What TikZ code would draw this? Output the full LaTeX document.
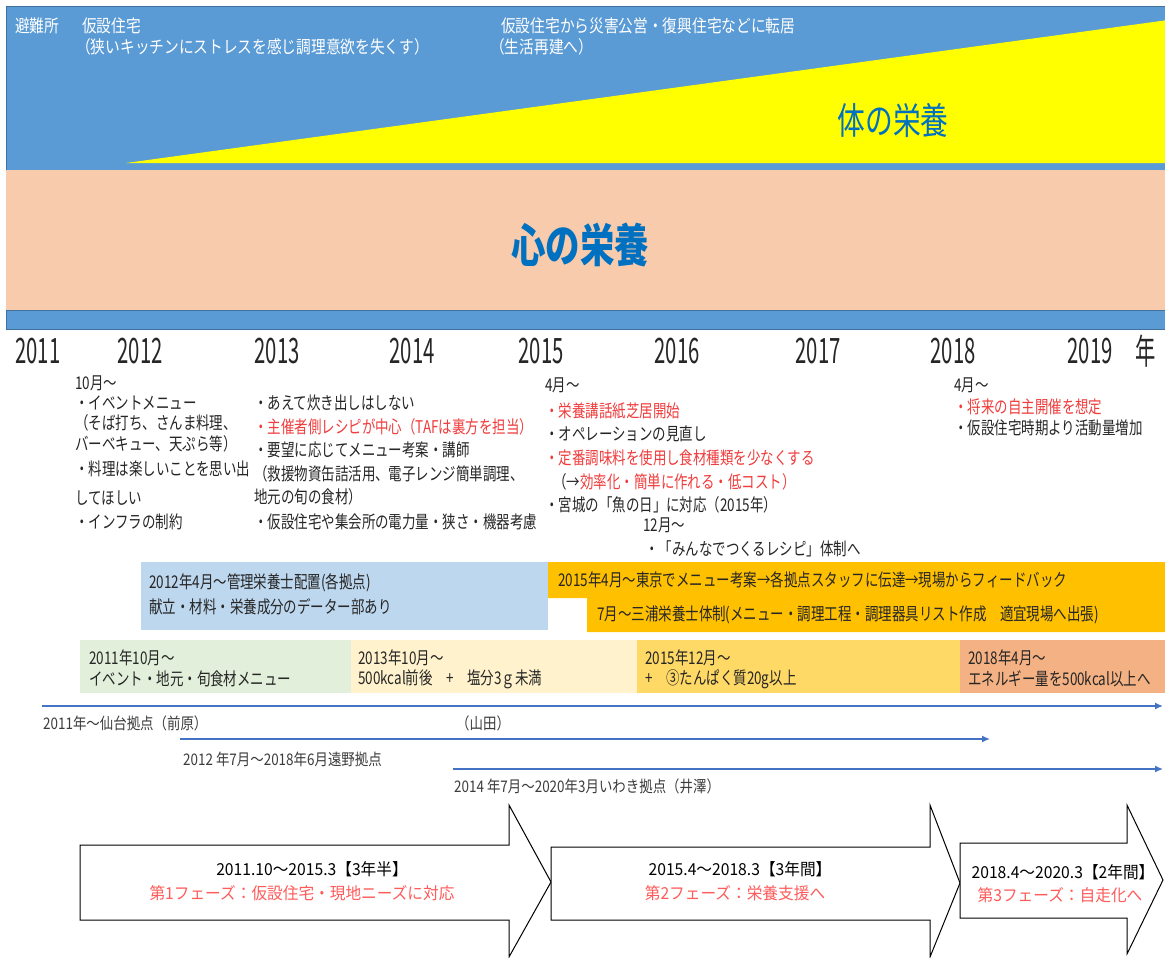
\documentclass[tikz,border=0pt]{standalone}
\usepackage{fontspec}
\usetikzlibrary{arrows.meta}
\newfontfamily\jp[FakeStretch=0.77]{Noto Sans CJK JP}
\newfontfamily\jpy[FakeStretch=0.58]{Noto Sans CJK JP}
\newfontfamily\jpt[FakeStretch=0.75]{Noto Sans CJK JP}
\newfontfamily\jpl[FakeStretch=0.84]{Noto Sans CJK JP}
\newfontfamily\jpw[FakeStretch=0.95]{Noto Sans CJK JP}
\definecolor{bandblue}{HTML}{5B9BD5}
\definecolor{bandline}{HTML}{41719C}
\definecolor{peach}{HTML}{F8CBAD}
\definecolor{ttlblue}{HTML}{0070C0}
\definecolor{yel}{HTML}{FFFF00}
\definecolor{boxblue}{HTML}{BDD7EE}
\definecolor{orng}{HTML}{FFC000}
\definecolor{grn}{HTML}{E2EFDA}
\definecolor{lyel}{HTML}{FFF2CC}
\definecolor{myel}{HTML}{FFD966}
\definecolor{salmon}{HTML}{F4B183}
\definecolor{lineblue}{HTML}{4472C4}
\definecolor{txtred}{HTML}{F03C3C}
\definecolor{phred}{HTML}{FF5B5B}
\definecolor{txtc}{HTML}{262626}
\tikzset{
  txt/.style={anchor=west, inner sep=0pt, text=txtc, font=\jp\fontsize{17.5}{20}\selectfont},
  rtxt/.style={txt, text=txtred},
  wtxt/.style={anchor=west, inner sep=0pt, text=white, font=\jpl\fontsize{17.5}{20}\selectfont},
  yr/.style={inner sep=0pt, text=txtc, font=\jpy\fontsize{35}{37}\selectfont},
  lbl/.style={anchor=west, inner sep=0pt, text=txtc!90, font=\jpl\fontsize{16}{18}\selectfont},
  phtxt/.style={inner sep=0pt, text=black, font=\jpw\fontsize{16.5}{19}\selectfont},
  phred/.style={phtxt, text=phred},
  baseline/.style={lineblue, line width=1.4pt, -{Latex[length=8pt,width=7pt]}},
  bigarrow/.style={draw=black, fill=white, line width=1pt, line join=miter}
}
\begin{document}
\begin{tikzpicture}[x=1pt,y=-1pt]
\useasboundingbox (0,0) rectangle (1165,958);
\fill[white] (0,0) rectangle (1165,958);
% bands
\filldraw[fill=bandblue, draw=bandline, line width=0.8pt] (6,6) rectangle (1168,329);
\fill[yel] (126,163) -- (1168,163) -- (1168,20) -- cycle;
\fill[peach] (6,170) rectangle (1168,310);
\draw[bandline, line width=0.8pt] (6,310) -- (1168,310);
\node[inner sep=0pt, text=ttlblue, font=\jpt\fontsize{37}{40}\selectfont] (body) at (893,120) {体の栄養};
\node[inner sep=0pt, text=ttlblue, font=\jpt\bfseries\fontsize{46}{50}\selectfont] (mind) at (580,245) {心の栄養};
\node[wtxt] (t1) at (15,26) {避難所};
\node[wtxt] (t2) at (82,26) {仮設住宅};
\node[wtxt] (t3) at (76,47) {（狭いキッチンにストレスを感じ調理意欲を失くす）};
\node[wtxt] (t4) at (501,26) {仮設住宅から災害公営・復興住宅などに転居};
\node[wtxt] (t5) at (490,47) {（生活再建へ）};
% years
\node[yr] (y11) at (38,351) {2011};
\node[yr] (y12) at (140,351) {2012};
\node[yr] (y13) at (277,351) {2013};
\node[yr] (y14) at (412,351) {2014};
\node[yr] (y15) at (541,351) {2015};
\node[yr] (y16) at (677,351) {2016};
\node[yr] (y17) at (818,351) {2017};
\node[yr] (y18) at (953,351) {2018};
\node[yr] (y19) at (1090,351) {2019};
\node[yr] (ynen) at (1146,351) {年};
% block 1
\node[txt] (a0) at (75,383) {10月～};
\node[txt] (a1) at (75,403) {・イベントメニュー};
\node[txt] (a2) at (75,423) {（そば打ち、さんま料理、};
\node[txt] (a3) at (75,444) {バーベキュー、天ぷら等）};
\node[txt] (a4) at (75,469) {・料理は楽しいことを思い出};
\node[txt] (a5) at (75,498) {してほしい};
\node[txt] (a6) at (75,522) {・インフラの制約};
% block 2
\node[txt] (b1) at (254,403) {・あえて炊き出しはしない};
\node[rtxt] (b2) at (254,427) {・主催者側レシピが中心（TAFは裏方を担当）};
\node[txt] (b3) at (254,450) {・要望に応じてメニュー考案・講師};
\node[txt] (b4) at (254,474) {（救援物資缶詰活用、電子レンジ簡単調理、};
\node[txt] (b5) at (254,497) {地元の旬の食材）};
\node[txt] (b6) at (254,522) {・仮設住宅や集会所の電力量・狭さ・機器考慮};
% block 3
\node[txt] (c0) at (545,385) {4月～};
\node[rtxt] (c1) at (545,411) {・栄養講話紙芝居開始};
\node[txt] (c2) at (545,434) {・オペレーションの見直し};
\node[rtxt] (c3) at (545,458) {・定番調味料を使用し食材種類を少なくする};
\node[txt] (c4) at (553,482) {（→\textcolor{txtred}{効率化・簡単に作れる・低コスト）}};
\node[txt] (c5) at (545,505) {・宮城の「魚の日」に対応（2015年）};
\node[txt] (c6) at (643,525) {12月～};
\node[txt] (c7) at (645,549) {・「みんなでつくるレシピ」体制へ};
% block 4
\node[txt] (d0) at (954,385) {4月～};
\node[rtxt] (d1) at (954,407) {・将来の自主開催を想定};
\node[txt] (d2) at (954,428) {・仮設住宅時期より活動量増加};
% bars
\fill[boxblue] (141,562) rectangle (548,630);
\node[txt] (e1) at (149,583) {2012年4月～管理栄養士配置(各拠点)};
\node[txt] (e2) at (149,607) {献立・材料・栄養成分のデーター部あり};
\fill[orng] (548,562) -- (1165,562) -- (1165,632) -- (587,632) -- (587,598) -- (548,598) -- cycle;
\node[txt] (f1) at (558,580) {2015年4月～東京でメニュー考案→各拠点スタッフに伝達→現場からフィードバック};
\node[txt] (f2) at (597,615) {7月～三浦栄養士体制(メニュー・調理工程・調理器具リスト作成　適宜現場へ出張)};
\fill[grn] (80,640) rectangle (351,693);
\fill[lyel] (351,640) rectangle (637,693);
\fill[myel] (637,640) rectangle (960,693);
\fill[salmon] (960,640) rectangle (1165,693);
\node[txt] (g1) at (89,658) {2011年10月～};
\node[txt] (g2) at (89,679) {イベント・地元・旬食材メニュー};
\node[txt] (h1) at (358,658) {2013年10月～};
\node[txt] (h2) at (358,679) {500kcal前後　+　塩分3ｇ未満};
\node[txt] (i1) at (645,658) {2015年12月～};
\node[txt] (i2) at (645,679) {+　③たんぱく質20g以上};
\node[txt] (j1) at (968,658) {2018年4月～};
\node[txt] (j2) at (968,679) {エネルギー量を500kcal以上へ};
% base lines
\coordinate (l1s) at (42,706);
\coordinate (l1e) at (1163,706);
\coordinate (l2s) at (180,739);
\coordinate (l2e) at (990,739);
\coordinate (l3s) at (453,769);
\coordinate (l3e) at (1163,769);
\draw[baseline] (l1s) -- (l1e);
\draw[baseline] (l2s) -- (l2e);
\draw[baseline] (l3s) -- (l3e);
\node[lbl] (k1) at (43,723) {2011年～仙台拠点（前原）};
\node[lbl] (k2) at (456,723) {（山田）};
\node[lbl] (k3) at (183,759) {2012 年7月～2018年6月遠野拠点};
\node[lbl] (k4) at (454,786) {2014 年7月～2020年3月いわき拠点（井澤）};
% phase arrows
\draw[bigarrow] (80,845) -- (509,845) -- (509,805) -- (551,882) -- (509,957) -- (509,920) -- (80,920) -- cycle;
\draw[bigarrow] (551,847) -- (930,847) -- (930,805) -- (960,883) -- (930,957) -- (930,920) -- (551,920) -- cycle;
\draw[bigarrow] (960,843) -- (1127,843) -- (1127,805) -- (1163,880) -- (1127,954) -- (1127,918) -- (960,918) -- cycle;
\node[phtxt] (p1a) at (312,869) {2011.10～2015.3【3年半】};
\node[phred] (p1b) at (302,893) {第1フェーズ：仮設住宅・現地ニーズに対応};
\node[phtxt] (p2a) at (740,869) {2015.4～2018.3【3年間】};
\node[phred] (p2b) at (735,893) {第2フェーズ：栄養支援へ};
\node[phtxt] (p3a) at (1063,872) {2018.4～2020.3【2年間】};
\node[phred] (p3b) at (1060,895) {第3フェーズ：自走化へ};
\end{tikzpicture}
\end{document}
